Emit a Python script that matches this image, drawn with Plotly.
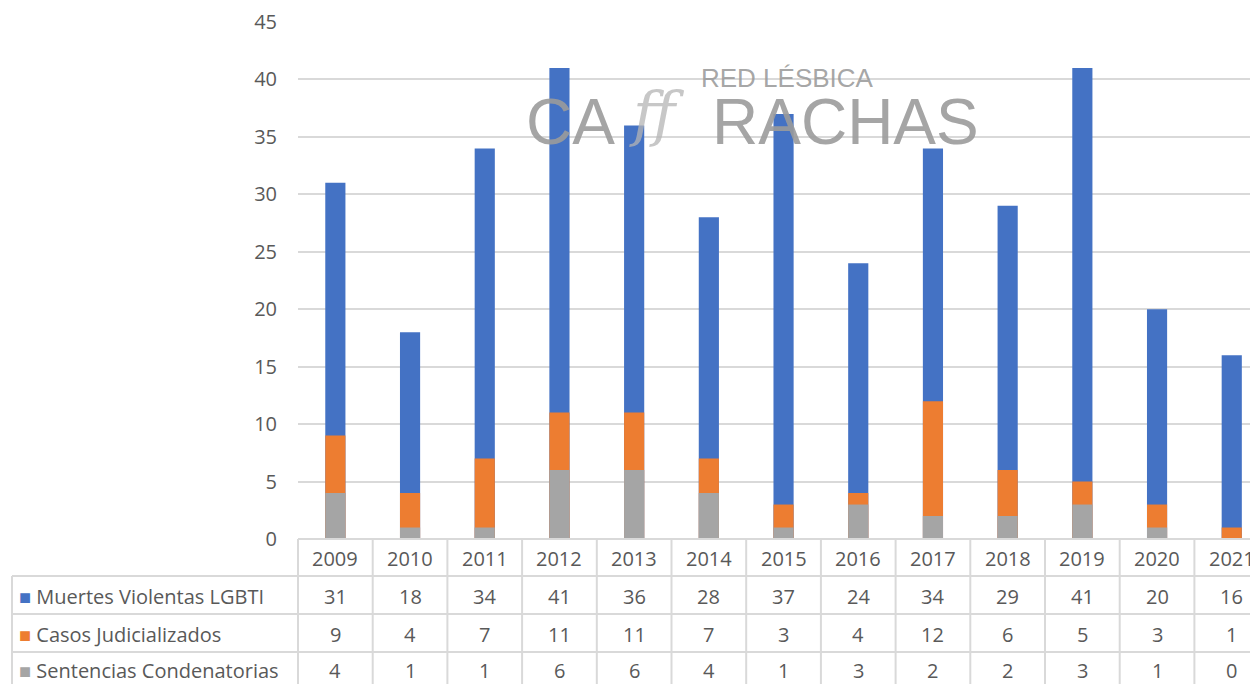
import plotly.graph_objects as go

# Datos
anios = ["2009", "2010", "2011", "2012", "2013", "2014", "2015",
         "2016", "2017", "2018", "2019", "2020", "2021"]
muertes = [31, 18, 34, 41, 36, 28, 37, 24, 34, 29, 41, 20, 16]
casos = [9, 4, 7, 11, 11, 7, 3, 4, 12, 6, 5, 3, 1]
sentencias = [4, 1, 1, 6, 6, 4, 1, 3, 2, 2, 3, 1, 0]

series = [
    ("Muertes Violentas LGBTI", muertes, "#4472C4"),
    ("Casos Judicializados", casos, "#ED7D31"),
    ("Sentencias Condenatorias", sentencias, "#A5A5A5"),
]

TEXTO = "#595959"
LINEA = "#D9D9D9"
FUENTE = "Open Sans"

# la página tiene 8 px de margen en el body: la figura se reduce para caber
W, H = 1250, 676
L, T, B = 290, 14, 145
alto_plot = H - T - B
ancho_plot = W - L


def py(pix):
    # píxel vertical de la página -> coordenada de papel
    return (539 - pix) / alto_plot


def px_(pix):
    return (pix - 298) / ancho_plot


fig = go.Figure()
xs = list(range(len(anios)))
for nombre, valores, color in series:
    fig.add_trace(go.Bar(x=xs, y=valores, name=nombre, marker_color=color,
                         marker_line_width=0, width=0.27, showlegend=False))

anotaciones = []
formas = []

# fila de encabezado (años) y filas de datos
y_filas = [py(558), py(596), py(634), py(670)]
for i, a in enumerate(anios):
    anotaciones.append(dict(x=i, y=y_filas[0], xref="x", yref="paper", text=a,
                            xanchor="center", yanchor="middle", showarrow=False,
                            font=dict(size=20, color=TEXTO)))
for fila, (nombre, valores, color) in enumerate(series, start=1):
    anotaciones.append(dict(
        x=px_(17), y=y_filas[fila], xref="paper", yref="paper",
        xanchor="left", yanchor="middle",
        text=f"<span style='color:{color}'>■</span> {nombre}", showarrow=False,
        font=dict(size=20, color=TEXTO)))
    for i, v in enumerate(valores):
        anotaciones.append(dict(x=i, y=y_filas[fila], xref="x", yref="paper",
                                xanchor="center", yanchor="middle",
                                text=str(v), showarrow=False,
                                font=dict(size=20, color=TEXTO)))

# líneas de la tabla
linea = dict(color=LINEA, width=2)
formas.append(dict(type="line", xref="paper", yref="paper", x0=0, x1=1,
                   y0=py(539), y1=py(539), line=linea))
for yy in (576, 614, 652):
    formas.append(dict(type="line", xref="paper", yref="paper", x0=px_(12), x1=1,
                       y0=py(yy), y1=py(yy), line=linea))
formas.append(dict(type="line", xref="paper", yref="paper", x0=px_(12), x1=px_(12),
                   y0=py(576), y1=py(700), line=linea))
formas.append(dict(type="line", xref="paper", yref="paper", x0=0, x1=0,
                   y0=py(539), y1=py(700), line=linea))
for i in range(1, len(anios)):
    formas.append(dict(type="line", xref="x", yref="paper", x0=i - 0.5, x1=i - 0.5,
                       y0=py(539), y1=py(700), line=linea))

# marca de agua
gris = "rgba(155,155,155,0.9)"
anotaciones += [
    dict(x=px_(787), y=py(78), xref="paper", yref="paper", text="RED LÉSBICA",
         xanchor="center", yanchor="middle", showarrow=False,
         font=dict(size=26, color=gris, family="Liberation Sans")),
    dict(x=px_(570), y=py(122), xref="paper", yref="paper", text="CA",
         xanchor="center", yanchor="middle", showarrow=False,
         font=dict(size=64, color=gris, family="Liberation Sans")),
    dict(x=px_(657), y=py(114), xref="paper", yref="paper", text="<i>ff</i>",
         xanchor="center", yanchor="middle", showarrow=False,
         font=dict(size=60, color="rgba(180,180,180,0.75)", family="DejaVu Serif")),
    dict(x=px_(845), y=py(122), xref="paper", yref="paper", text="RACHAS",
         xanchor="center", yanchor="middle", showarrow=False,
         font=dict(size=64, color=gris, family="Liberation Sans")),
]

fig.update_layout(
    width=W, height=H,
    margin=dict(l=L, r=0, t=T, b=B),
    barmode="overlay",
    plot_bgcolor="white", paper_bgcolor="white",
    font=dict(family=FUENTE, color=TEXTO, size=20),
    xaxis=dict(range=[-0.5, ancho_plot / 74.7 - 0.5], showticklabels=False,
               showgrid=False, zeroline=False, fixedrange=True),
    yaxis=dict(range=[0, 45], dtick=5, showgrid=True, gridcolor=LINEA,
               gridwidth=1.5, zeroline=False, ticklabelstandoff=20,
               tickfont=dict(size=20, color=TEXTO)),
    annotations=anotaciones,
    shapes=formas,
)

fig.write_html("out.html")
